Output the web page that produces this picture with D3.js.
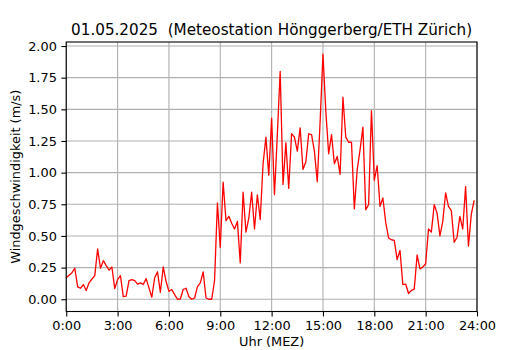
<!DOCTYPE html>
<html>
<head>
<meta charset="utf-8">
<script src="https://cdn.jsdelivr.net/npm/d3@7"></script>
<style>
  body { margin: 0; background: #fff; }
  text { font-family: "DejaVu Sans", sans-serif; fill: #000; white-space: pre; }
</style>
</head>
<body>
<div id="chart"></div>
<script>
// chart data
var title = "01.05.2025  (Meteostation Hönggerberg/ETH Zürich)";
var xLabel = "Uhr (MEZ)";
var yLabel = "Windgeschwindigkeit (m/s)";

// 10-minute readings, 0:00 .. 23:50
var windSpeed = [
  0.17, 0.19, 0.21, 0.245, 0.098, 0.087, 0.116, 0.069, 0.13, 0.16,
  0.187, 0.397, 0.245, 0.305, 0.266, 0.23, 0.255, 0.084, 0.155, 0.187,
  0.02, 0.025, 0.147, 0.155, 0.147, 0.12, 0.13, 0.116, 0.163, 0.09,
  0.016, 0.17, 0.216, 0.055, 0.255, 0.14, 0.063, 0.077, 0.037, 0.0,
  0.002, 0.077, 0.087, 0.02, 0.0, 0.01, 0.1, 0.13, 0.216, 0.01,
  0.0, 0.0, 0.15, 0.76, 0.41, 0.925, 0.62, 0.655, 0.60, 0.555,
  0.615, 0.287, 0.845, 0.53, 0.64, 0.845, 0.555, 0.825, 0.63, 1.07,
  1.28, 0.98, 1.43, 0.826, 1.30, 1.80, 0.907, 1.236, 0.875, 1.307,
  1.28, 1.17, 1.354, 1.025, 1.086, 1.307, 1.30, 1.17, 0.928, 1.40,
  1.935, 1.486, 1.149, 1.30, 1.07, 1.128, 0.986, 1.596, 1.28, 1.24,
  1.24, 0.713, 1.023, 1.18, 1.36, 0.707, 0.747, 1.49, 0.94, 1.055,
  0.733, 0.80, 0.607, 0.484, 0.47, 0.465, 0.313, 0.386, 0.116, 0.12,
  0.045, 0.07, 0.08, 0.35, 0.24, 0.255, 0.28, 0.555, 0.53, 0.747,
  0.68, 0.50, 0.615, 0.84, 0.733, 0.70, 0.45, 0.49, 0.655, 0.555,
  0.89, 0.42, 0.67, 0.78
];
var hours = windSpeed.map(function(d, i) { return i / 6; });

var xTicks = [0, 3, 6, 9, 12, 15, 18, 21, 24];
var xTickLabels = ["0:00", "3:00", "6:00", "9:00", "12:00", "15:00", "18:00", "21:00", "24:00"];
var yTicks = [0, 0.25, 0.5, 0.75, 1.0, 1.25, 1.5, 1.75, 2.0];

// svg area
var svgWidth = 530;
var svgHeight = 350;
var margin = { top: 42, right: 53, bottom: 38.5, left: 66.25 };
var width = svgWidth - margin.left - margin.right;
var height = svgHeight - margin.top - margin.bottom;

var svg = d3.select("#chart")
  .append("svg")
  .attr("width", svgWidth)
  .attr("height", svgHeight);

var chartGroup = svg.append("g")
  .attr("transform", `translate(${margin.left}, ${margin.top})`);

// scales (y gets matplotlib-like 5% margins)
var yMin = d3.min(windSpeed), yMax = d3.max(windSpeed);
var pad = (yMax - yMin) * 0.05;

var xScale = d3.scaleLinear().domain([0, 24]).range([0, width]);
var yScale = d3.scaleLinear().domain([yMin - pad, yMax + pad]).range([height, 0]);

// grid
chartGroup.append("g")
  .selectAll("line.vgrid")
  .data(xTicks)
  .enter()
  .append("line")
  .attr("x1", d => xScale(d)).attr("x2", d => xScale(d))
  .attr("y1", 0).attr("y2", height)
  .attr("stroke", "#b0b0b0").attr("stroke-width", 1.1);

chartGroup.append("g")
  .selectAll("line.hgrid")
  .data(yTicks)
  .enter()
  .append("line")
  .attr("x1", 0).attr("x2", width)
  .attr("y1", d => yScale(d)).attr("y2", d => yScale(d))
  .attr("stroke", "#b0b0b0").attr("stroke-width", 1.1);

// line
var line = d3.line()
  .x((d, i) => xScale(hours[i]))
  .y(d => yScale(d));

chartGroup.append("path")
  .datum(windSpeed)
  .attr("d", line)
  .attr("fill", "none")
  .attr("stroke", "#ff0000")
  .attr("stroke-width", 1.3)
  .attr("stroke-linejoin", "round");

// axes
var bottomAxis = d3.axisBottom(xScale)
  .tickValues(xTicks)
  .tickFormat((d, i) => xTickLabels[i])
  .tickSize(4.9)
  .tickPadding(4.5);

var leftAxis = d3.axisLeft(yScale)
  .tickValues(yTicks)
  .tickFormat(d3.format(".2f"))
  .tickSize(4.9)
  .tickPadding(4.5);

var xAxisG = chartGroup.append("g")
  .attr("transform", `translate(0, ${height})`)
  .call(bottomAxis);

var yAxisG = chartGroup.append("g")
  .call(leftAxis);

[xAxisG, yAxisG].forEach(function(g) {
  g.select(".domain").remove();
  g.selectAll(".tick line").attr("stroke", "#000").attr("stroke-width", 1.1);
  g.selectAll(".tick text")
    .style("font-family", "DejaVu Sans")
    .style("font-size", "12.9px")
    .attr("fill", "#000");
});

// frame
chartGroup.append("rect")
  .attr("x", 0).attr("y", 0)
  .attr("width", width).attr("height", height)
  .attr("fill", "none")
  .attr("stroke", "#000")
  .attr("stroke-width", 1.1);

// labels
svg.append("text")
  .attr("x", margin.left + width / 2)
  .attr("y", 34.5)
  .attr("text-anchor", "middle")
  .style("font-size", "15.2px")
  .text(title);

svg.append("text")
  .attr("x", margin.left + width / 2)
  .attr("y", 345.5)
  .attr("text-anchor", "middle")
  .style("font-size", "12.9px")
  .text(xLabel);

svg.append("text")
  .attr("transform", `translate(20, ${margin.top + height / 2}) rotate(-90)`)
  .attr("text-anchor", "middle")
  .style("font-size", "12.9px")
  .text(yLabel);
</script>
</body>
</html>
